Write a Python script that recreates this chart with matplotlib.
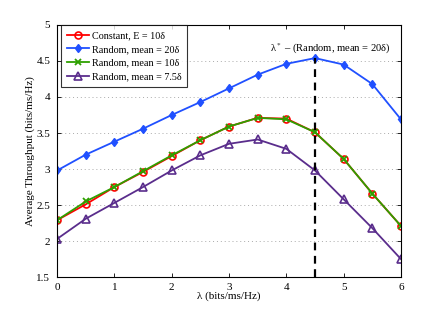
import matplotlib
matplotlib.use("Agg")
import matplotlib.pyplot as plt

plt.rcParams['font.family'] = ['Liberation Serif', 'DejaVu Serif']
plt.rcParams['mathtext.fontset'] = 'stix'

lam = [0, 0.5, 1, 1.5, 2, 2.5, 3, 3.5, 4, 4.5, 5, 5.5, 6]
constant_10 = [2.29, 2.51, 2.75, 2.96, 3.18, 3.40, 3.59, 3.71, 3.70, 3.51, 3.14, 2.66, 2.21]
random_20 = [2.98, 3.20, 3.38, 3.56, 3.75, 3.93, 4.12, 4.31, 4.46, 4.54, 4.45, 4.18, 3.69]
random_10 = [2.29, 2.55, 2.75, 2.97, 3.19, 3.40, 3.59, 3.71, 3.69, 3.51, 3.14, 2.66, 2.21]
random_75 = [2.03, 2.31, 2.53, 2.75, 2.98, 3.19, 3.35, 3.41, 3.28, 2.98, 2.58, 2.18, 1.75]
labels = ["Constant, E = 10δ", "Random, mean = 20δ", "Random, mean = 10δ", "Random, mean = 7.5δ"]
lam_star = 4.5
lam_star_val = 4.54

fig = plt.figure(figsize=(4.43, 3.12), dpi=100)
ax = fig.add_axes([0.129, 0.112, 0.776, 0.808])

ax.plot(lam, constant_10, color='#ff0000', lw=1.3, marker='o', ms=5, mfc='none', mec='#ff0000', mew=1.2, label=labels[0])
ax.plot(lam, random_20, color='#2050ff', lw=1.3, marker='d', ms=4.5, mfc='#2050ff', mec='#2050ff', label=labels[1])
ax.plot(lam, random_10, color='#2ea000', lw=1.3, marker='x', ms=4.5, mew=1.3, label=labels[2])
ax.plot(lam, random_75, color='#5a2d8c', lw=1.3, marker='^', ms=5.5, mfc='none', mec='#5a2d8c', mew=1.2, label=labels[3])

ax.plot([lam_star, lam_star], [1.5, lam_star_val], color='black', lw=1.6, ls=(0, (3.5, 2.5)))
ax.text(4.76, 4.67, "λ$^*$ – (Random, mean = 20δ)", ha='center', va='center', fontsize=7.6)

ax.set_xlim(0, 6)
ax.set_ylim(1.5, 5)
ax.set_xticks(range(0, 7))
ax.set_yticks([1.5, 2, 2.5, 3, 3.5, 4, 4.5, 5])
ax.set_yticklabels(['1.5', '2', '2.5', '3', '3.5', '4', '4.5', '5'])
ax.yaxis.grid(True, ls=(0, (1, 3)), color='#aaaaaa', lw=0.7)
ax.tick_params(direction='in', top=True, right=True, labelsize=8, length=3, width=0.6)
ax.tick_params(axis='y', pad=5)
ax.tick_params(axis='x', pad=4)
for s in ax.spines.values():
    s.set_linewidth(0.8)

ax.set_xlabel("λ (bits/ms/Hz)", fontsize=8, labelpad=0)
ax.set_ylabel("Average Throughput (bits/ms/Hz)", fontsize=8, labelpad=1)

leg = ax.legend(loc='upper left', bbox_to_anchor=(0.012, 0.998), borderaxespad=0,
                fontsize=7.3, frameon=True, fancybox=False, edgecolor='black',
                handlelength=2.2, labelspacing=0.45, borderpad=0.55, handletextpad=0.25)
leg.get_frame().set_linewidth(0.8)

fig.savefig("out.png", dpi=100)
